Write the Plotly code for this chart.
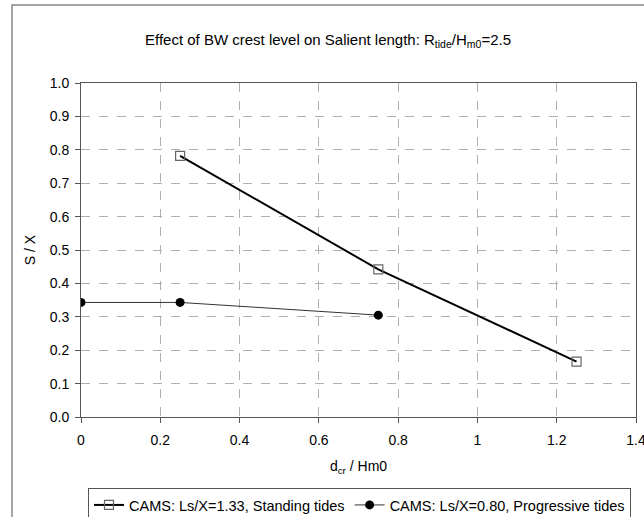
import plotly.graph_objects as go

standing_x = [0.25, 0.75, 1.25]
standing_y = [0.782, 0.442, 0.166]
prog_x = [0.0, 0.25, 0.75]
prog_y = [0.343, 0.343, 0.305]

x_ticks = [0, 0.2, 0.4, 0.6, 0.8, 1.0, 1.2, 1.4]
x_labels = ["0", "0.2", "0.4", "0.6", "0.8", "1", "1.2", "1.4"]
y_ticks = [0.0, 0.1, 0.2, 0.3, 0.4, 0.5, 0.6, 0.7, 0.8, 0.9, 1.0]
y_labels = ["%.1f" % v for v in y_ticks]

FONT = "Liberation Sans, Arial, sans-serif"

fig = go.Figure()
fig.add_trace(go.Scatter(
    x=standing_x, y=standing_y, mode="lines+markers",
    name="CAMS: Ls/X=1.33, Standing tides",
    line=dict(color="black", width=2),
    marker=dict(symbol="square-open", size=9, color="#666666", line=dict(width=1.2, color="#666666")),
))
fig.add_trace(go.Scatter(
    x=prog_x, y=prog_y, mode="lines+markers",
    name="CAMS: Ls/X=0.80, Progressive tides",
    line=dict(color="#333333", width=1),
    marker=dict(symbol="circle", size=9, color="black"),
))

W, H = 644, 517
L, R, T, B = 81, 8, 83, 100
pw = W - L - R
ph = H - T - B

def px_x(p):
    return (p - L) / pw

def px_y(p):
    return (H - B - p) / ph

fig.add_shape(type="rect", xref="paper", yref="paper",
              x0=px_x(12), x1=px_x(700), y0=px_y(600), y1=px_y(5),
              line=dict(color="#888888", width=1.5), fillcolor="rgba(0,0,0,0)", layer="below")

fig.update_layout(
    width=W, height=H,
    margin=dict(l=L, r=R, t=T, b=B, autoexpand=False),
    paper_bgcolor="white", plot_bgcolor="white",
    font=dict(family=FONT, size=14, color="black"),
    title=dict(text="Effect of BW crest level on Salient length: R<sub>tide</sub>/H<sub>m0</sub>=2.5",
               x=328 / W, xanchor="center", y=1 - 40 / H, yanchor="middle",
               font=dict(size=15, family=FONT, color="black")),
    showlegend=True,
    legend=dict(orientation="h", x=px_x(88), xanchor="left", y=px_y(488), yanchor="top",
                bordercolor="#555555", borderwidth=1, bgcolor="white",
                font=dict(size=14.5, family=FONT), itemwidth=30, tracegroupgap=0),
)
fig.update_xaxes(
    range=[0, 1.4], tickvals=x_ticks, ticktext=x_labels,
    showgrid=True, gridcolor="#b0b0b0", griddash="dash", gridwidth=1,
    showline=True, linecolor="#555555", linewidth=1, mirror=True,
    ticks="outside", ticklen=5, tickcolor="#555555",
    ticklabelstandoff=5, ticklabeloverflow="allow",
    zeroline=False, automargin=False,
    tickfont=dict(size=14, family=FONT),
    title=dict(text="d<sub>cr</sub> / Hm0", font=dict(size=14, family=FONT), standoff=14),
)
fig.update_yaxes(
    range=[0, 1.0], tickvals=y_ticks, ticktext=y_labels,
    showgrid=True, gridcolor="#b0b0b0", griddash="dash", gridwidth=1,
    showline=True, linecolor="#555555", linewidth=1, mirror=True,
    ticks="outside", ticklen=5, tickcolor="#555555",
    ticklabelstandoff=3,
    zeroline=False, automargin=False,
    tickfont=dict(size=14, family=FONT),
    title=dict(text="S / X", font=dict(size=14, family=FONT), standoff=10),
)

fig.write_html("out.html")
